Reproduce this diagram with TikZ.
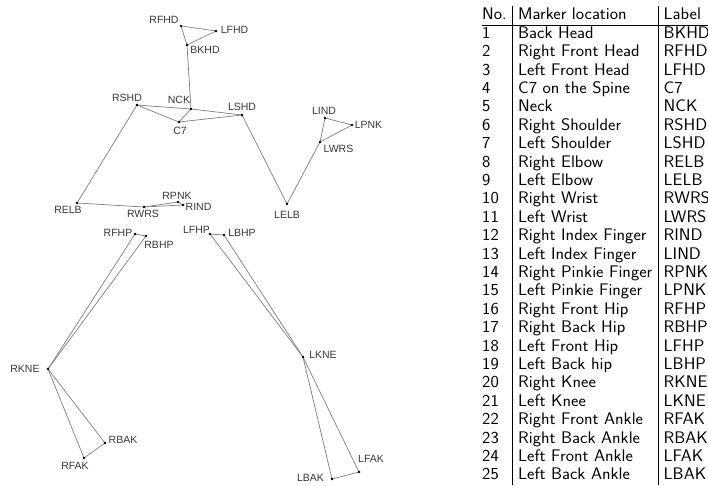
\documentclass[tikz,border=0pt]{standalone}
\usepackage{fontspec}
\newfontfamily\labfont{Liberation Sans}
\usepackage{array}
\usepackage{graphicx}
\definecolor{edgegray}{RGB}{125,125,125}
\definecolor{labgray}{RGB}{55,55,55}
\begin{document}
\begin{tikzpicture}[x=1pt,y=-1pt,
  bone/.style={draw=edgegray, line width=0.7pt},
  mlabel/.style={font=\labfont\fontsize{10.5}{12}\selectfont, text=labgray, inner sep=0pt},
  marker/.style={circle, fill=black, inner sep=0pt, minimum size=2.6pt}]
\useasboundingbox (0,0) rectangle (708,485);
\clip (0,0) rectangle (708,485);
% marker positions
\coordinate (RFHD) at (181,26);
\coordinate (LFHD) at (216,31);
\coordinate (BKHD) at (187,45);
\coordinate (NCK) at (191,109);
\coordinate (RSHD) at (137,105);
\coordinate (LSHD) at (242,115);
\coordinate (C7) at (179,122);
\coordinate (RELB) at (77,203);
\coordinate (RWRS) at (144,207);
\coordinate (RPNK) at (178,202);
\coordinate (RIND) at (183,205);
\coordinate (LELB) at (287,204);
\coordinate (LIND) at (325,118);
\coordinate (LPNK) at (352,125);
\coordinate (LWRS) at (320,142);
\coordinate (RFHP) at (135,234);
\coordinate (RBHP) at (146,236);
\coordinate (RKNE) at (48,369);
\coordinate (RBAK) at (105,443);
\coordinate (RFAK) at (84,458);
\coordinate (LFHP) at (210,234);
\coordinate (LBHP) at (224,235);
\coordinate (LKNE) at (303,357);
\coordinate (LFAK) at (359,472);
\coordinate (LBAK) at (332,479);
% bones
\foreach \a/\b in {RFHD/LFHD, LFHD/BKHD, BKHD/RFHD, BKHD/NCK, RSHD/NCK, NCK/LSHD,
  RSHD/C7, C7/LSHD, NCK/C7, RSHD/RELB, RELB/RWRS, RWRS/RPNK, RWRS/RIND, RPNK/RIND,
  LSHD/LELB, LELB/LWRS, LWRS/LIND, LWRS/LPNK, LIND/LPNK,
  RFHP/RBHP, RFHP/RKNE, RBHP/RKNE, RKNE/RFAK, RKNE/RBAK, RFAK/RBAK,
  LFHP/LBHP, LFHP/LKNE, LBHP/LKNE, LKNE/LBAK, LKNE/LFAK, LBAK/LFAK}
  \draw[bone] (\a) -- (\b);
% markers
\foreach \p in {RFHD,LFHD,BKHD,NCK,RSHD,LSHD,C7,RELB,RWRS,RPNK,RIND,LELB,LIND,LPNK,LWRS,
  RFHP,RBHP,RKNE,RBAK,RFAK,LFHP,LBHP,LKNE,LFAK,LBAK}
  \node[marker] (m\p) at (\p) {};
% labels
\node[mlabel] (lRFHD) at (164,20) {RFHD};
\node[mlabel] (lLFHD) at (234.5,30) {LFHD};
\node[mlabel] (lBKHD) at (205,50) {BKHD};
\node[mlabel] (lNCK) at (179,100) {NCK};
\node[mlabel] (lRSHD) at (127,98) {RSHD};
\node[mlabel] (lLSHD) at (242,107) {LSHD};
\node[mlabel] (lC7) at (180,131) {C7};
\node[mlabel] (lRELB) at (68,210) {RELB};
\node[mlabel] (lRWRS) at (143,214) {RWRS};
\node[mlabel] (lRPNK) at (177,196) {RPNK};
\node[mlabel] (lRIND) at (198.5,207) {RIND};
\node[mlabel] (lLELB) at (287,215) {LELB};
\node[mlabel] (lLIND) at (324,111) {LIND};
\node[mlabel] (lLPNK) at (368.5,125) {LPNK};
\node[mlabel] (lLWRS) at (338.5,149) {LWRS};
\node[mlabel] (lRFHP) at (118,233) {RFHP};
\node[mlabel] (lRBHP) at (159,245) {RBHP};
\node[mlabel] (lRKNE) at (25,369) {RKNE};
\node[mlabel] (lRBAK) at (123,440) {RBAK};
\node[mlabel] (lRFAK) at (75,466) {RFAK};
\node[mlabel] (lLFHP) at (196.5,230) {LFHP};
\node[mlabel] (lLBHP) at (242,233) {LBHP};
\node[mlabel] (lLKNE) at (323,355) {LKNE};
\node[mlabel] (lLFAK) at (371,459) {LFAK};
\node[mlabel] (lLBAK) at (310.5,478) {LBAK};
% table
\node[anchor=north west, inner sep=0pt,
  font=\sffamily\fontsize{16.8}{18.4}\selectfont] (tbl) at (482,6) {%
  \setlength\tabcolsep{5pt}\setlength\arrayrulewidth{0.85pt}%
  \scalebox{1.05}[1]{%
  \begin{tabular}{@{}l|l|l@{}}
  No. & Marker location & Label\\\hline
  1 & Back Head & BKHD\\
  2 & Right Front Head & RFHD\\
  3 & Left Front Head & LFHD\\
  4 & C7 on the Spine & C7\\
  5 & Neck & NCK\\
  6 & Right Shoulder & RSHD\\
  7 & Left Shoulder & LSHD\\
  8 & Right Elbow & RELB\\
  9 & Left Elbow & LELB\\
  10 & Right Wrist & RWRS\\
  11 & Left Wrist & LWRS\\
  12 & Right Index Finger & RIND\\
  13 & Left Index Finger & LIND\\
  14 & Right Pinkie Finger & RPNK\\
  15 & Left Pinkie Finger & LPNK\\
  16 & Right Front Hip & RFHP\\
  17 & Right Back Hip & RBHP\\
  18 & Left Front Hip & LFHP\\
  19 & Left Back hip & LBHP\\
  20 & Right Knee & RKNE\\
  21 & Left Knee & LKNE\\
  22 & Right Front Ankle & RFAK\\
  23 & Right Back Ankle & RBAK\\
  24 & Left Front Ankle & LFAK\\
  25 & Left Back Ankle & LBAK
  \end{tabular}}};
\end{tikzpicture}
\end{document}
